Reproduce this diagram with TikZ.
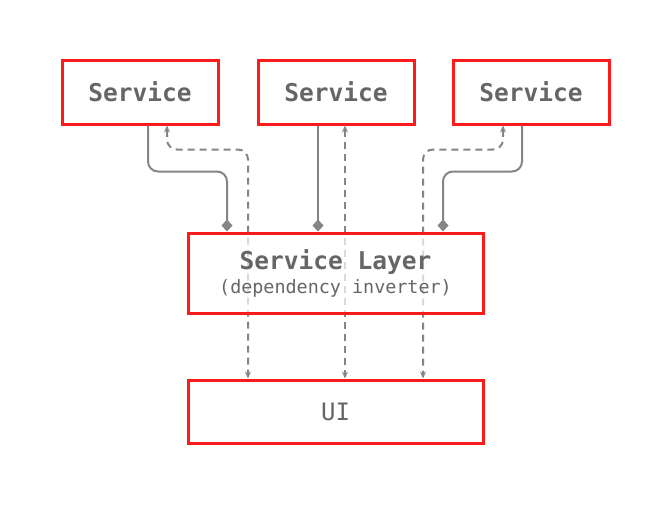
\documentclass[tikz,border=0pt]{standalone}
\usepackage{fontspec}
\setmonofont{DejaVu Sans Mono}
\usetikzlibrary{positioning, arrows.meta}

\definecolor{boxred}{HTML}{FF1A1A}
\definecolor{linegray}{HTML}{858585}
\definecolor{textgray}{HTML}{666666}

\begin{document}
\begin{tikzpicture}[x=1pt, y=-1pt,
		box/.style={rectangle, draw=boxred, line width=3pt, text=textgray, font=\ttfamily, inner sep=0pt},
		service/.style={box, minimum width=156pt, minimum height=64pt, font=\ttfamily\bfseries\fontsize{24.5}{28}\selectfont},
		dep/.style={draw=linegray, line width=2pt, rounded corners=10pt, -{Diamond[length=12pt, width=11pt]}},
		inv/.style={draw=linegray, line width=2pt, dash pattern=on 7pt off 5pt, rounded corners=10pt, {Stealth[length=7pt, width=6pt]}-{Stealth[length=7pt, width=6pt]}}]
	\useasboundingbox (0,0) rectangle (672,504);

	% Servizi
	\node[service] (service1) at (140,92) {Service};
	\node[service] (service2) at (336,92) {Service};
	\node[service] (service3) at (531,92) {Service};

	% Livello e UI
	\node[box, minimum width=295pt, minimum height=80pt] (layer) at (335.5,273) {};
	\node[box, minimum width=295pt, minimum height=63pt, font=\ttfamily\fontsize{24}{28}\selectfont] (ui) at (335.5,411.5) {UI};

	% Dipendenze invertite (tratteggiate)
	\draw[inv] ([xshift=27pt]service1.south) -- ++(0,24) -| ([xshift=-87.5pt]ui.north);
	\draw[inv] ([xshift=9pt]service2.south) -- ([xshift=9pt]service2.south |- ui.north);
	\draw[inv] ([xshift=-28pt]service3.south) -- ++(0,24) -| ([xshift=87.5pt]ui.north);

	% Dipendenze verso il livello
	\draw[dep] ([xshift=8pt]service1.south) -- ++(0,46) -| ([xshift=-108.5pt]layer.north);
	\draw[dep] ([xshift=-18pt]service2.south) -- ([xshift=-18pt]service2.south |- layer.north);
	\draw[dep] ([xshift=-9pt]service3.south) -- ++(0,46) -| ([xshift=107.5pt]layer.north);

	% Riquadro del livello sopra le linee
	\node[box, fill=white, fill opacity=0.7, text opacity=1, minimum width=295pt, minimum height=80pt, align=center] (layertext) at (layer)
		{{\bfseries\fontsize{24.5}{28}\selectfont Service Layer}\\[4pt]{\fontsize{18.4}{21}\selectfont (dependency inverter)}};
\end{tikzpicture}
\end{document}
